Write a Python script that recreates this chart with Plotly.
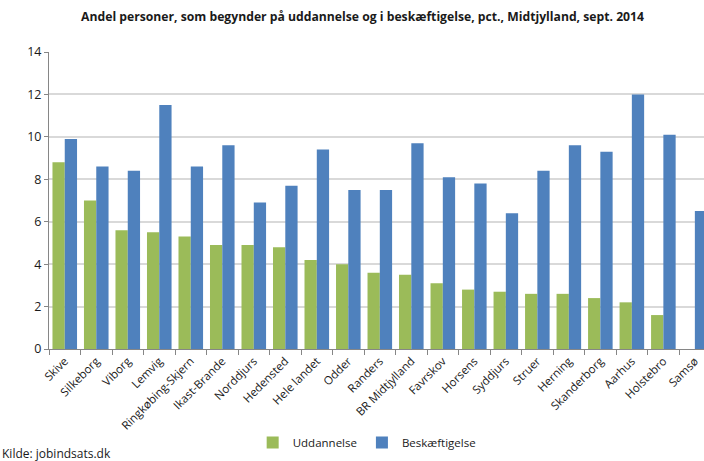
import plotly.graph_objects as go

categories = ["Skive", "Silkeborg", "Viborg", "Lemvig", "Ringkøbing-Skjern", "Ikast-Brande",
              "Norddjurs", "Hedensted", "Hele landet", "Odder", "Randers", "BR Midtjylland",
              "Favrskov", "Horsens", "Syddjurs", "Struer", "Herning", "Skanderborg",
              "Aarhus", "Holstebro", "Samsø"]
uddannelse = [8.8, 7.0, 5.6, 5.5, 5.3, 4.9, 4.9, 4.8, 4.2, 4.0, 3.6, 3.5,
              3.1, 2.8, 2.7, 2.6, 2.6, 2.4, 2.2, 1.6, None]
beskaeftigelse = [9.9, 8.6, 8.4, 11.5, 8.6, 9.6, 6.9, 7.7, 9.4, 7.5, 7.5, 9.7,
                  8.1, 7.8, 6.4, 8.4, 9.6, 9.3, 12.0, 10.1, 6.5]
y_ticks = [0, 2, 4, 6, 8, 10, 12, 14]

title_text = "Andel personer, som begynder på uddannelse og i beskæftigelse, pct., Midtjylland, sept. 2014"
source_text = "Kilde: jobindsats.dk"

GREEN = "#9BBB59"
BLUE = "#4F81BD"
FONT = "Open Sans"

fig = go.Figure()
fig.add_trace(go.Bar(name="Uddannelse", x=categories, y=uddannelse,
                     marker=dict(color=GREEN, line=dict(width=0))))
fig.add_trace(go.Bar(name="Beskæftigelse", x=categories, y=beskaeftigelse,
                     marker=dict(color=BLUE, line=dict(width=0))))

fig.update_layout(
    width=704, height=461,
    margin=dict(l=49, r=0, t=52, b=112, autoexpand=False),
    paper_bgcolor="white", plot_bgcolor="white",
    barmode="group", bargap=0.22, bargroupgap=0,
    font=dict(family=FONT, color="#404040", size=11),
    title=dict(text="<b>" + title_text + "</b>", x=0.515, xanchor="center",
               y=1 - 17 / 461, yanchor="middle", yref="container",
               font=dict(family=FONT, size=12.2, color="#1a1a1a")),
    showlegend=True,
    legend=dict(orientation="h", x=0.485, xanchor="center", y=-0.315, yanchor="middle",
                font=dict(family=FONT, size=11.5, color="#1a1a1a"),
                itemwidth=30, traceorder="normal", bgcolor="rgba(0,0,0,0)"),
    xaxis=dict(range=[-0.5, 20.29], tickangle=-45, tickson="boundaries",
               ticks="outside", ticklen=5, tickcolor="#868686",
               showline=True, linecolor="#868686", linewidth=1,
               showgrid=False, tickfont=dict(family=FONT, size=11.5, color="#1a1a1a")),
    yaxis=dict(range=[0, 14], tickvals=y_ticks, ticks="outside", ticklen=4,
               tickcolor="#868686", showline=True, linecolor="#868686", linewidth=1,
               showgrid=True, gridcolor="#D9D9D9", gridwidth=1.5, zeroline=False,
               tickfont=dict(family=FONT, size=12.5, color="#1a1a1a")),
    annotations=[dict(text=source_text, xref="paper", yref="paper",
                      x=-49 / 655, xanchor="left", y=-(453 - 349) / 297, yanchor="middle",
                      showarrow=False, font=dict(family=FONT, size=12, color="#1a1a1a"))],
)

fig.write_html("out.html", config={"displayModeBar": False},
               post_script="document.body.style.margin='0';")
